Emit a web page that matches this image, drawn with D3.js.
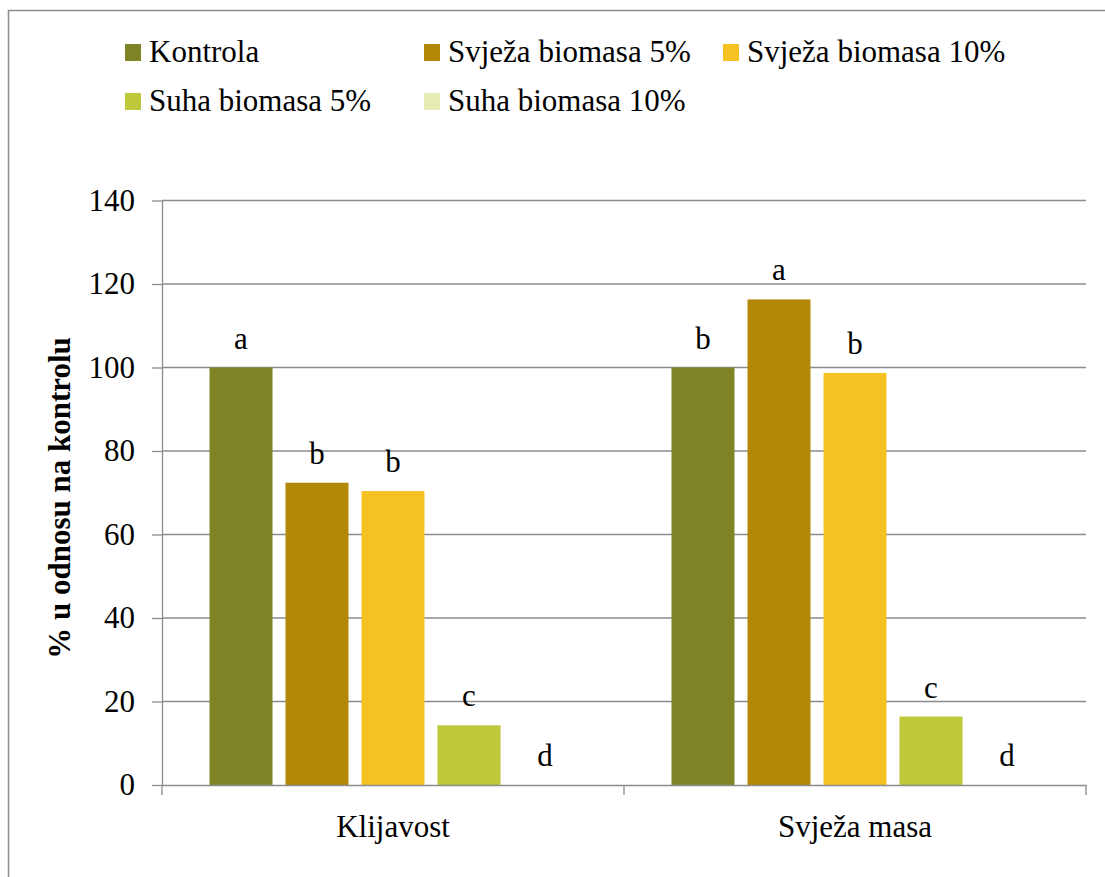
<!DOCTYPE html>
<html>
<head>
<meta charset="utf-8">
<script src="https://cdn.jsdelivr.net/npm/d3@7"></script>
<style>
	body { margin: 0; background: #fff; }
</style>
</head>
<body>
<svg id="grafikon" width="1105" height="877"></svg>
<script>
var kategorije = ["Klijavost", "Svježa masa"];
var tretmani = ["Kontrola", "Svježa biomasa 5%", "Svježa biomasa 10%", "Suha biomasa 5%", "Suha biomasa 10%"];
var klijavost = [100, 72.4, 70.4, 14.3, 0];
var svjezaMasa = [100, 116.3, 98.7, 16.4, 0];
var slovaKlijavost = ["a", "b", "b", "c", "d"];
var slovaMasa = ["b", "a", "b", "c", "d"];
var yTicks = [0, 20, 40, 60, 80, 100, 120, 140];
var boje = ["#7f8427", "#b38707", "#f6c123", "#bec83a", "#e6ebb6"];
var font = "'Liberation Serif', 'Times New Roman', Times, serif";

function crtaj(){
	var svg = d3.select("#grafikon");

	// okvir grafikona
	svg.append("rect")
	.attr("x", 8.5).attr("y", 10.5)
	.attr("width", 1200).attr("height", 1000)
	.attr("fill", "none")
	.attr("stroke", "#8c8c8c")
	.attr("stroke-width", 1.5);

	var margin = {top: 200.5, left: 162},
	width = 924,
	height = 584.5;

	var g = svg.append("g").attr("transform", "translate(" + margin.left + "," + margin.top + ")");

	var x0 = d3.scaleBand()
	.domain(kategorije)
	.range([0, width]);

	var x1 = d3.scaleBand()
	.domain(tretmani)
	.range([0, x0.bandwidth()])
	.paddingInner(0.171)
	.paddingOuter(0.625);

	var y = d3.scaleLinear()
	.domain([0, 140])
	.range([height, 0]);

	var boja = d3.scaleOrdinal().domain(tretmani).range(boje);

	// mreza
	g.selectAll(".grid")
	.data(yTicks.filter(function(d) { return d > 0; }))
	.enter().append("line")
	.attr("x1", 0).attr("x2", width)
	.attr("y1", function(d) { return y(d); })
	.attr("y2", function(d) { return y(d); })
	.attr("stroke", "#8c8c8c")
	.attr("stroke-width", 1.3);

	// os y
	var osY = g.append("g")
	.call(d3.axisLeft(y).tickValues(yTicks).tickSize(10).tickSizeOuter(0).tickPadding(17));
	osY.selectAll("line").attr("stroke", "#8c8c8c").attr("stroke-width", 1.3);
	osY.select(".domain").attr("stroke", "#8c8c8c").attr("stroke-width", 1.3);
	osY.selectAll("text").style("font-size", "31px");

	// stupci
	var podaci = [klijavost, svjezaMasa];
	var slova = [slovaKlijavost, slovaMasa];
	var grupe = g.selectAll(".grupa")
	.data(kategorije)
	.enter().append("g")
	.attr("transform", function(d) { return "translate(" + x0(d) + ",0)"; });

	grupe.selectAll("rect")
	.data(function(d, i) { return tretmani.map(function(t, j) { return {t: t, v: podaci[i][j], s: slova[i][j]}; }); })
	.enter().append("rect")
	.attr("x", function(d) { return x1(d.t); })
	.attr("y", function(d) { return y(d.v); })
	.attr("width", x1.bandwidth())
	.attr("height", function(d) { return height - y(d.v); })
	.attr("fill", function(d) { return boja(d.t); });

	grupe.selectAll(".slovo")
	.data(function(d, i) { return tretmani.map(function(t, j) { return {t: t, v: podaci[i][j], s: slova[i][j]}; }); })
	.enter().append("text")
	.attr("x", function(d) { return x1(d.t) + x1.bandwidth() / 2; })
	.attr("y", function(d) { return y(d.v) - 19; })
	.attr("text-anchor", "middle")
	.style("font-size", "31px")
	.text(function(d) { return d.s; });

	// os x
	var osX = g.append("g")
	.attr("transform", "translate(0," + height + ")")
	.call(d3.axisBottom(x0).tickSize(0).tickSizeOuter(0).tickPadding(30));
	osX.select(".domain").attr("stroke", "#8c8c8c").attr("stroke-width", 1.5);
	osX.selectAll("text").style("font-size", "31px");

	var granice = kategorije.map(function(d) { return x0(d); }).concat([x0.range()[1]]);
	osX.selectAll(".granica")
	.data(granice)
	.enter().append("line")
	.attr("x1", function(d) { return d; })
	.attr("x2", function(d) { return d; })
	.attr("y1", 0).attr("y2", 10)
	.attr("stroke", "#8c8c8c")
	.attr("stroke-width", 1.3);

	// naslov osi y
	svg.append("text")
	.attr("transform", "translate(70,498) rotate(-90)")
	.attr("text-anchor", "middle")
	.style("font-size", "31px")
	.style("font-weight", "bold")
	.text("% u odnosu na kontrolu");

	// legenda
	var leg = svg.selectAll(".leg")
	.data(tretmani)
	.enter().append("g")
	.attr("transform", function(d, i) { return "translate(" + (125 + (i % 3) * 299) + "," + (62 + Math.floor(i / 3) * 49) + ")"; });

	leg.append("rect")
	.attr("x", 0).attr("y", -18)
	.attr("width", 16).attr("height", 17)
	.attr("fill", function(d) { return boja(d); });

	leg.append("text")
	.attr("x", 24).attr("y", 0)
	.style("font-size", "31px")
	.text(function(d) { return d; });

	svg.selectAll("text")
	.attr("font-family", null)
	.style("font-family", font)
	.style("fill", "#000");
}

crtaj();
</script>
</body>
</html>
